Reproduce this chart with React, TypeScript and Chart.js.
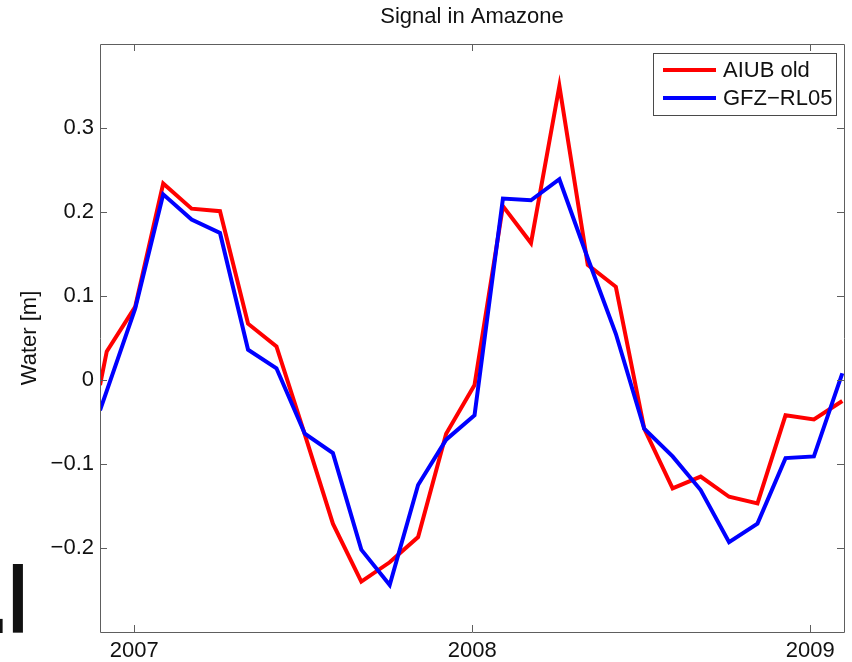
import React, { useEffect, useRef } from "react";
import { Chart, registerables } from "chart.js";

Chart.register(...registerables);

// ---- data ----
const chartTitle = "Signal in Amazone";
const yAxisLabel = "Water [m]";
const seriesNames = ["AIUB old", "GFZ\u2212RL05"];

// decimal years of the samples
const years = [
  2006.899, 2006.919, 2007.003, 2007.086, 2007.17, 2007.254, 2007.337, 2007.421,
  2007.505, 2007.588, 2007.672, 2007.756, 2007.84, 2007.923, 2008.007, 2008.091,
  2008.174, 2008.258, 2008.342, 2008.425, 2008.509, 2008.593, 2008.676, 2008.76,
  2008.844, 2008.927, 2009.011, 2009.095,
];

const aiubOld = [
  -0.006, 0.034, 0.087, 0.234, 0.204, 0.201, 0.067, 0.04, -0.065, -0.171, -0.24,
  -0.217, -0.187, -0.064, -0.006, 0.207, 0.163, 0.35, 0.137, 0.111, -0.058, -0.129,
  -0.115, -0.139, -0.147, -0.042, -0.047, -0.025,
];

const gfzRL05 = [
  -0.036, -0.013, 0.085, 0.221, 0.191, 0.175, 0.036, 0.014, -0.064, -0.087, -0.202,
  -0.244, -0.125, -0.071, -0.042, 0.216, 0.214, 0.239, 0.145, 0.055, -0.058, -0.091,
  -0.131, -0.193, -0.171, -0.093, -0.091, 0.008,
];

const xTicks = [2007, 2008, 2009];
const yTicks = [-0.2, -0.1, 0, 0.1, 0.2, 0.3];
const xRange = [2006.899, 2009.1];
const yRange = [-0.3, 0.4];

const FONT = '"Liberation Sans", Arial, Helvetica, sans-serif';
const AXIS_COLOR = "#5e5e5e";
const TEXT_COLOR = "#111111";

const fmtY = (v: number) =>
  v === 0 ? "0" : (v < 0 ? "\u2212" : "") + Math.abs(v).toFixed(1);

const framePlugin = {
  id: "frame",
  afterDatasetsDraw(chart: any) {
    const { ctx, chartArea } = chart;
    const { left, right, top, bottom } = chartArea;
    const tl = 7;
    ctx.save();
    ctx.strokeStyle = AXIS_COLOR;
    ctx.lineWidth = 1;
    ctx.beginPath();
    ctx.rect(Math.round(left) + 0.5, Math.round(top) + 0.5, Math.round(right - left), Math.round(bottom - top));
    const xs = chart.scales.x;
    xTicks.forEach((v) => {
      const px = Math.round(xs.getPixelForValue(v)) + 0.5;
      ctx.moveTo(px, bottom);
      ctx.lineTo(px, bottom - tl);
      ctx.moveTo(px, top);
      ctx.lineTo(px, top + tl);
    });
    const ys = chart.scales.y;
    yTicks.forEach((v) => {
      const py = Math.round(ys.getPixelForValue(v)) + 0.5;
      ctx.moveTo(left, py);
      ctx.lineTo(left + tl, py);
      ctx.moveTo(right, py);
      ctx.lineTo(right - tl, py);
    });
    ctx.stroke();
    ctx.restore();
  },
};

// title centred over the axes box (as in the reference)
const axesTitlePlugin = {
  id: "axesTitle",
  afterDraw(chart: any) {
    const { ctx, chartArea } = chart;
    ctx.save();
    ctx.font = `22px ${FONT}`;
    ctx.fillStyle = TEXT_COLOR;
    ctx.textAlign = "center";
    ctx.textBaseline = "middle";
    ctx.fillText(chartTitle, (chartArea.left + chartArea.right) / 2, 17);
    ctx.restore();
  },
};

const legendPlugin = {
  id: "boxLegend",
  afterDraw(chart: any) {
    const { ctx, chartArea } = chart;
    const size = 22;
    ctx.save();
    ctx.font = `${size}px ${FONT}`;
    const dsets = chart.data.datasets;
    const maxW = Math.max(...dsets.map((d: any) => ctx.measureText(d.label).width));
    const padL = 10, lineLen = 53, gap = 7, padR = 4, rowH = 28, padV = 3;
    const w = padL + lineLen + gap + maxW + padR;
    const h = padV * 2 + rowH * dsets.length;
    const x1 = Math.round(chartArea.right - 8 - w);
    const y1 = Math.round(chartArea.top + 9);
    ctx.fillStyle = "#ffffff";
    ctx.fillRect(x1, y1, w, h);
    ctx.strokeStyle = "#4a4a4a";
    ctx.lineWidth = 1;
    ctx.strokeRect(x1 + 0.5, y1 + 0.5, Math.round(w), Math.round(h));
    dsets.forEach((d: any, i: number) => {
      const cy = y1 + padV + rowH * i + rowH / 2;
      ctx.strokeStyle = d.borderColor;
      ctx.lineWidth = 4;
      ctx.beginPath();
      ctx.moveTo(x1 + padL, cy);
      ctx.lineTo(x1 + padL + lineLen, cy);
      ctx.stroke();
      ctx.fillStyle = TEXT_COLOR;
      ctx.textBaseline = "middle";
      ctx.textAlign = "left";
      ctx.fillText(d.label, x1 + padL + lineLen + gap, cy + 1);
    });
    ctx.restore();
  },
};

// fragment of a neighbouring label cut off at the bottom-left of the figure
const fragmentPlugin = {
  id: "fragment",
  afterDraw(chart: any) {
    const { ctx } = chart;
    ctx.save();
    ctx.fillStyle = "#111111";
    ctx.font = `bold 94px ${FONT}`;
    ctx.textBaseline = "alphabetic";
    ctx.textAlign = "left";
    const base = 633;
    const ml = ctx.measureText("l");
    ctx.save();
    ctx.translate(12.5, 0);
    ctx.scale(0.78, 1);
    ctx.fillText("l", ml.actualBoundingBoxLeft, base);
    ctx.restore();
    const md = ctx.measureText(".");
    ctx.fillText(".", 3 - md.actualBoundingBoxRight, base);
    ctx.restore();
  },
};

export default function App() {
  const ref = useRef<HTMLCanvasElement | null>(null);

  useEffect(() => {
    document.body.style.margin = "0";
    const canvas = ref.current;
    if (!canvas) return;
    const font = { family: FONT, size: 22, weight: "normal" as const };
    const chart = new Chart(canvas, {
      type: "line",
      data: {
        datasets: [
          {
            label: seriesNames[0],
            data: years.map((x, i) => ({ x, y: aiubOld[i] })),
            borderColor: "#ff0000",
            backgroundColor: "#ff0000",
            borderWidth: 4,
            pointRadius: 0,
            tension: 0,
            fill: false,
            borderJoinStyle: "miter",
            clip: 0,
            order: 1,
          },
          {
            label: seriesNames[1],
            data: years.map((x, i) => ({ x, y: gfzRL05[i] })),
            borderColor: "#0000ff",
            backgroundColor: "#0000ff",
            borderWidth: 4,
            pointRadius: 0,
            tension: 0,
            fill: false,
            borderJoinStyle: "miter",
            clip: 0,
            order: 0,
          },
        ],
      },
      options: {
        animation: false,
        responsive: false,
        devicePixelRatio: 1,
        events: [],
        layout: { padding: { left: 0, right: 8, top: 44, bottom: 0 } },
        plugins: {
          legend: { display: false },
          tooltip: { enabled: false },
          title: { display: false },
        },
        scales: {
          x: {
            type: "linear",
            min: xRange[0],
            max: xRange[1],
            afterBuildTicks: (s: any) => {
              s.ticks = xTicks.map((v) => ({ value: v }));
            },
            afterFit: (s: any) => {
              s.height = 30;
            },
            ticks: {
              callback: (v: any) => String(v),
              color: TEXT_COLOR,
              font,
              padding: 6,
              maxRotation: 0,
              autoSkip: false,
            },
            grid: { display: false, drawTicks: false },
            border: { display: false },
          },
          y: {
            type: "linear",
            min: yRange[0],
            max: yRange[1],
            afterBuildTicks: (s: any) => {
              s.ticks = yTicks.map((v) => ({ value: v }));
            },
            afterFit: (s: any) => {
              s.width = 100;
            },
            ticks: {
              callback: (v: any) => fmtY(Number(v)),
              color: TEXT_COLOR,
              font,
              padding: 6,
              autoSkip: false,
            },
            grid: { display: false, drawTicks: false },
            border: { display: false },
            title: {
              display: true,
              text: yAxisLabel,
              color: TEXT_COLOR,
              font,
              padding: { top: 17, bottom: 0 },
            },
          },
        },
      } as any,
      plugins: [framePlugin, axesTitlePlugin, legendPlugin, fragmentPlugin],
    });
    return () => chart.destroy();
  }, []);

  return (
    <div style={{ position: "relative", width: 852, height: 662, background: "#ffffff" }}>
      <canvas ref={ref} width={852} height={662} style={{ display: "block", width: 852, height: 662 }} />
    </div>
  );
}
